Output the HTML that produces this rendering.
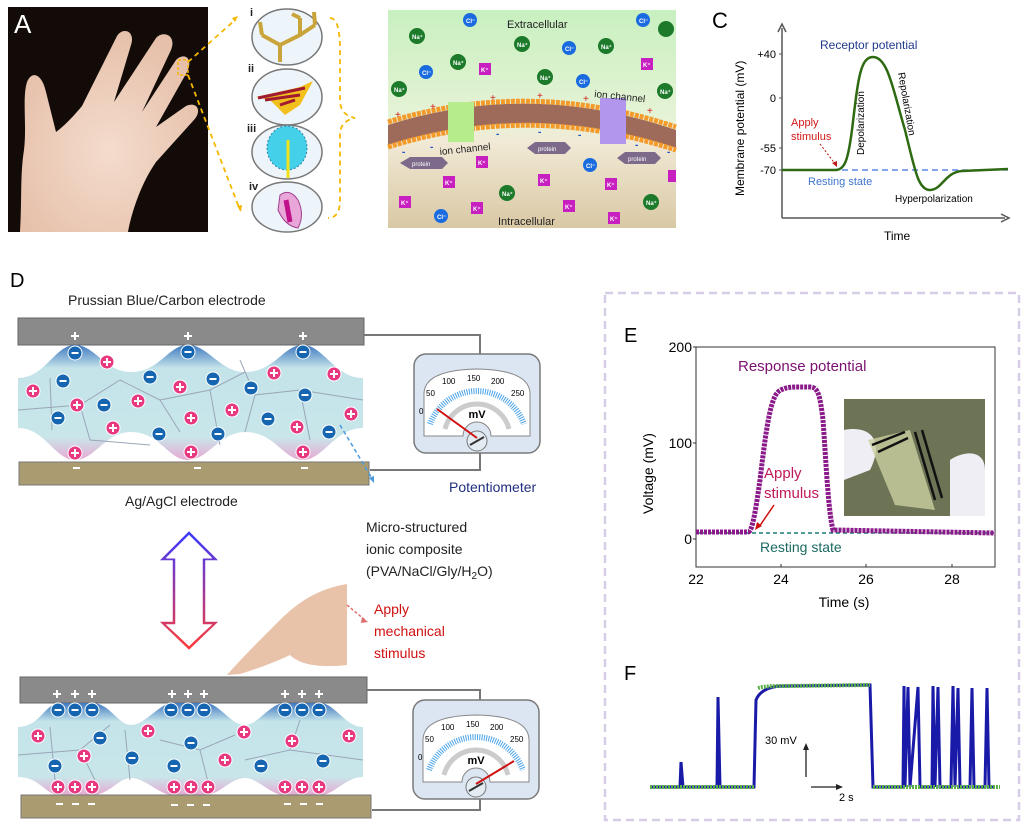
<!DOCTYPE html>
<html><head><meta charset="utf-8"><style>
html,body{margin:0;padding:0;background:#fff}
svg{display:block;font-family:"Liberation Sans",Arial,sans-serif}
</style></head><body>
<svg width="1031" height="832" viewBox="0 0 1031 832" xmlns="http://www.w3.org/2000/svg">
<defs>
<symbol id="pos" viewBox="-7 -7 14 14" overflow="visible"><circle r="7" fill="#e8387f" stroke="#fff" stroke-width="1"/><path d="M-4 0H4M0 -4V4" stroke="#fff" stroke-width="2"/></symbol>
<symbol id="neg" viewBox="-7 -7 14 14" overflow="visible"><circle r="7" fill="#1565b0" stroke="#fff" stroke-width="1"/><path d="M-3.5 0H3.5" stroke="#fff" stroke-width="2"/></symbol>
<linearGradient id="gB" x1="0" y1="0" x2="0" y2="1"><stop offset="0" stop-color="#c8f0c0"/><stop offset="0.5" stop-color="#e6f3d6"/><stop offset="0.6" stop-color="#f1ead6"/><stop offset="1" stop-color="#d9c8a4"/></linearGradient>
<linearGradient id="gel" x1="0" y1="0" x2="0" y2="1"><stop offset="0" stop-color="#3f78c0"/><stop offset="0.2" stop-color="#c4e4ea"/><stop offset="0.8" stop-color="#c8e6ea"/><stop offset="1" stop-color="#e7a9d3"/></linearGradient>
<linearGradient id="arr" x1="0" y1="0" x2="0" y2="1"><stop offset="0" stop-color="#3a3aff"/><stop offset="1" stop-color="#ff3a3a"/></linearGradient>
<radialGradient id="skin" cx="0.5" cy="0.6" r="0.6"><stop offset="0" stop-color="#f4dccd"/><stop offset="1" stop-color="#e6c0aa"/></radialGradient>
<g id="meter">
<rect x="0" y="0" width="126" height="99" rx="12" fill="#dbe6f2" stroke="#7a7a7a" stroke-width="1.5"/>
<path d="M10 40 Q10 16 63 15 Q116 16 116 40 L116 82 L77 82 A14 14 0 0 0 49 82 L10 82 Z" fill="#fff" stroke="#888"/>
<path d="M16 70 A50 50 0 0 1 110 70" fill="none" stroke="#4aa3e8" stroke-width="6" stroke-dasharray="1 1.3"/>
<path d="M31 75 A33 33 0 0 1 95 75" fill="none" stroke="#ccc" stroke-width="5"/>
<text x="63" y="64" font-size="11" font-weight="bold" text-anchor="middle">mV</text>
<text x="5" y="60" font-size="8">0</text><text x="12" y="42" font-size="8">50</text><text x="28" y="30" font-size="8">100</text><text x="53" y="27" font-size="8">150</text><text x="77" y="30" font-size="8">200</text><text x="97" y="42" font-size="8">250</text>
<circle cx="63" cy="87" r="10" fill="#e4ecf3" stroke="#777"/><path d="M56 91L70 83" stroke="#333" stroke-width="2"/>
</g>
</defs>

<!-- Panel A -->
<rect x="8" y="7" width="200" height="225" fill="#120b08"/>
<path d="M20 232 C22 200 20 175 24 150 C27 125 22 98 27 82 C32 70 42 74 46 92 L56 132 C64 126 72 118 82 106 L116 38 C121 26 136 30 131 45 L114 102 L156 38 C163 30 177 35 171 50 L142 112 L176 60 C184 52 194 58 187 72 L156 127 L186 106 C197 101 203 111 193 121 L156 162 C142 182 132 210 128 232 Z" fill="url(#skin)"/>
<text x="14" y="33" font-size="26" fill="#fff">A</text>
<rect x="178" y="60" width="10" height="15" fill="none" stroke="#f5b800" stroke-width="1.5" stroke-dasharray="3 2"/>
<path d="M188 62 L235 20 M188 75 L240 210" stroke="#f5b800" stroke-width="1.8" stroke-dasharray="5 4" fill="none"/>
<path d="M232 18l6-2-3 6z M237 206l4 6 1-7z" fill="#f5b800"/>
<g stroke="#777" stroke-width="1.5" fill="#eef5fa">
<ellipse cx="287" cy="37" rx="35" ry="28"/><ellipse cx="287" cy="97" rx="35" ry="28"/><ellipse cx="287" cy="152" rx="35" ry="27"/><ellipse cx="287" cy="207" rx="35" ry="25"/></g>
<path d="M280 62 L280 45 L262 35 M280 45 L300 35 L300 18 M300 35 L315 25 M262 35 L260 22 M300 18 L292 14 M315 25 L314 12" stroke="#c9a43a" stroke-width="4" fill="none"/>
<path d="M256 97 L300 87 L313 81 L300 105 L285 115 L270 100 Z" fill="#f2c01d"/><path d="M258 98 L305 88 M265 100 L300 95 M280 105 L295 100" stroke="#a01b30" stroke-width="3"/>
<ellipse cx="287" cy="148" rx="20" ry="22" fill="#44d0e8" stroke="#2a7fa6" stroke-dasharray="2 2"/><path d="M288 178 L288 140" stroke="#f2e21a" stroke-width="3"/>
<path d="M280 195 Q290 188 298 200 Q305 215 298 228 Q285 226 278 210 Z" fill="#e9a6d8" stroke="#a04090"/><path d="M286 200 L290 222" stroke="#c0108a" stroke-width="5"/>
<g font-size="11" font-weight="bold" fill="#222"><text x="250" y="16">i</text><text x="248" y="72">ii</text><text x="247" y="132">iii</text><text x="249" y="190">iv</text></g>
<path d="M330 18 Q340 18 340 50 L340 100 Q340 115 355 118 Q340 121 340 135 L340 200 Q340 218 328 218" stroke="#f5b800" stroke-width="1.8" stroke-dasharray="5 4" fill="none"/>

<!-- Panel B -->
<text x="390" y="28" font-size="22">B</text>
<rect x="388" y="10" width="288" height="218" fill="url(#gB)"/>
<path d="M388 125 Q530 80 676 130 L676 148 Q530 100 388 145 Z" fill="#9e6a5a"/>
<path d="M388 122 Q530 78 676 127" stroke="#f39a2a" stroke-width="5" stroke-dasharray="4 1" fill="none"/>
<path d="M388 147 Q530 102 676 150" stroke="#f39a2a" stroke-width="5" stroke-dasharray="4 1" fill="none"/>
<path d="M448 102 h26 v40 h-26z" fill="#b7ec8c" rx="6"/><path d="M600 98 h26 v46 h-26z" fill="#b295ec"/>
<text x="507" y="28" font-size="11" fill="#222">Extracellular</text>
<text x="498" y="225" font-size="11" fill="#222">Intracellular</text>
<text x="440" y="155" font-size="10" fill="#222" transform="rotate(-6 440 155)">ion channel</text>
<text x="594" y="97" font-size="10" fill="#222" transform="rotate(6 594 97)">ion channel</text>
<g fill="#7d6a8a"><path d="M400 163 l10-6 h32 l6 6 -6 6 h-32z"/><path d="M527 148 l8-6 h30 l6 6 -6 6 h-30z"/><path d="M617 158 l8-6 h30 l6 6 -6 6 h-30z"/></g>
<g font-size="6" fill="#fff"><text x="412" y="166">protein</text><text x="538" y="151">protein</text><text x="628" y="161">protein</text></g>
<g fill="#1c7a2a"><circle cx="417" cy="36" r="8"/><circle cx="522" cy="44" r="8"/><circle cx="458" cy="62" r="8"/><circle cx="545" cy="77" r="8"/><circle cx="606" cy="46" r="8"/><circle cx="399" cy="89" r="8"/><circle cx="666" cy="29" r="8"/><circle cx="665" cy="91" r="8"/><circle cx="507" cy="193" r="8"/><circle cx="651" cy="202" r="8"/></g>
<g fill="#1a6be0"><circle cx="470" cy="20" r="7"/><circle cx="569" cy="48" r="7"/><circle cx="426" cy="72" r="7"/><circle cx="583" cy="81" r="7"/><circle cx="643" cy="20" r="7"/><circle cx="590" cy="165" r="7"/><circle cx="441" cy="216" r="7"/></g>
<g fill="#c81fc0"><rect x="479" y="63" width="12" height="12"/><rect x="641" y="58" width="12" height="12"/><rect x="476" y="156" width="12" height="12"/><rect x="443" y="176" width="12" height="12"/><rect x="538" y="174" width="12" height="12"/><rect x="605" y="178" width="12" height="12"/><rect x="399" y="196" width="12" height="12"/><rect x="471" y="202" width="12" height="12"/><rect x="563" y="200" width="12" height="12"/><rect x="608" y="212" width="12" height="12"/><rect x="668" y="170" width="8" height="12"/></g>
<g font-size="6" fill="#fff" font-weight="bold"><text x="412" y="39">Na⁺</text><text x="517" y="47">Na⁺</text><text x="453" y="65">Na⁺</text><text x="540" y="80">Na⁺</text><text x="601" y="49">Na⁺</text><text x="394" y="92">Na⁺</text><text x="660" y="94">Na⁺</text><text x="502" y="196">Na⁺</text><text x="646" y="205">Na⁺</text>
<text x="466" y="23">Cl⁻</text><text x="565" y="51">Cl⁻</text><text x="422" y="75">Cl⁻</text><text x="579" y="84">Cl⁻</text><text x="639" y="23">Cl⁻</text><text x="586" y="168">Cl⁻</text><text x="437" y="219">Cl⁻</text>
<text x="481" y="72">K⁺</text><text x="643" y="67">K⁺</text><text x="478" y="165">K⁺</text><text x="445" y="185">K⁺</text><text x="540" y="183">K⁺</text><text x="607" y="187">K⁺</text><text x="401" y="205">K⁺</text><text x="473" y="211">K⁺</text><text x="565" y="209">K⁺</text><text x="610" y="221">K⁺</text></g>
<g fill="#d02020" font-size="10"><text x="395" y="118">+</text><text x="430" y="110">+</text><text x="490" y="101">+</text><text x="537" y="99">+</text><text x="583" y="102">+</text><text x="647" y="114">+</text></g>
<g fill="#1a50c0" font-size="10" font-weight="bold"><text x="402" y="155">-</text><text x="430" y="150">-</text><text x="496" y="137">-</text><text x="538" y="135">-</text><text x="578" y="138">-</text><text x="635" y="148">-</text><text x="667" y="155">-</text></g>

<!-- Panel C -->
<text x="712" y="28" font-size="22">C</text>
<path d="M782 218 V28 M782 218 H1005" stroke="#555" stroke-width="1.5" fill="none"/>
<path d="M778 32 L782 24 L786 32 M1001 214 L1009 218 L1001 222" stroke="#555" stroke-width="1.5" fill="none"/>
<path d="M779 54h3M779 98h3M779 148h3M779 170h3" stroke="#555"/>
<g font-size="11" text-anchor="end"><text x="776" y="58">+40</text><text x="776" y="102">0</text><text x="776" y="152">-55</text><text x="776" y="174">-70</text></g>
<text x="0" y="0" font-size="12" transform="translate(744 196) rotate(-90)">Membrane potential (mV)</text>
<path d="M782 170 H1008" stroke="#3a6ee0" stroke-dasharray="6 4" stroke-width="1.3"/>
<path d="M782 170 L835 170 C845 170 848 160 852 130 C858 80 860 57 873 57 C888 57 893 90 905 130 C915 170 918 190 930 190 C942 190 945 172 962 171 L1008 169" stroke="#2e6a12" stroke-width="2.5" fill="none"/>
<text x="820" y="49" font-size="12" fill="#1f3a8a">Receptor potential</text>
<text x="791" y="126" font-size="11" fill="#d01818">Apply</text><text x="791" y="140" font-size="11" fill="#d01818">stimulus</text>
<path d="M820 144 L836 165" stroke="#c01818" stroke-dasharray="2 2"/><path d="M832 163l5 4 0-6z" fill="#c01818"/>
<text x="808" y="185" font-size="11" fill="#3f74cc">Resting state</text>
<text x="895" y="202" font-size="10">Hyperpolarization</text>
<text x="0" y="0" font-size="10" transform="translate(864 155) rotate(-90)">Depolarization</text>
<text x="0" y="0" font-size="10" transform="translate(898 73) rotate(80)">Repolarization</text>
<text x="884" y="240" font-size="12">Time</text>

<!-- Panel D -->
<text x="10" y="287" font-size="20">D</text>
<text x="68" y="305" font-size="14" fill="#222">Prussian Blue/Carbon electrode</text>
<rect x="18" y="318" width="346" height="27" fill="#8a8a8a" stroke="#666"/>
<path d="M364 335 H480 V354 M370 470 H480 V453" stroke="#777" stroke-width="2" fill="none"/>
<path d="M18 378 C45 378 55 345 75 345 C95 345 105 372 131 372 C160 372 168 345 188 345 C208 345 220 372 245 372 C275 372 283 345 303 345 C323 345 335 378 363 378 L363 428 C335 428 323 460 303 460 C283 460 275 432 245 432 C220 432 208 460 188 460 C168 460 160 432 131 432 C105 432 95 460 75 460 C55 460 45 428 18 428 Z" fill="url(#gel)"/>
<path d="M50 378 L52 430 M18 410 L80 405 L120 380 M80 405 L90 440 L150 445 M120 380 L160 400 L180 432 M160 400 L210 390 L245 372 M210 390 L220 445 M245 432 L255 395 L300 390 L363 400 M300 390 L310 440 M255 395 L240 360" stroke="#9aa6b8" stroke-width="1" fill="none"/>
<rect x="19" y="462" width="350" height="23" fill="#aa9c70" stroke="#777"/>
<g stroke="#fff" stroke-width="2"><path d="M71 336h8M75 332v8M184 336h8M188 332v8M299 336h8M303 332v8"/><path d="M73 468h7M194 468h7M301 468h7"/></g>
<g>
<use href="#neg" x="68" y="346" width="14" height="14"/><use href="#neg" x="56" y="374" width="14" height="14"/><use href="#neg" x="97" y="398" width="14" height="14"/><use href="#neg" x="51" y="411" width="14" height="14"/><use href="#neg" x="143" y="370" width="14" height="14"/><use href="#neg" x="181" y="345" width="14" height="14"/><use href="#neg" x="206" y="372" width="14" height="14"/><use href="#neg" x="152" y="427" width="14" height="14"/><use href="#neg" x="211" y="427" width="14" height="14"/><use href="#neg" x="244" y="381" width="14" height="14"/><use href="#neg" x="296" y="345" width="14" height="14"/><use href="#neg" x="298" y="388" width="14" height="14"/><use href="#neg" x="261" y="412" width="14" height="14"/><use href="#neg" x="322" y="425" width="14" height="14"/>
<use href="#pos" x="26" y="384" width="14" height="14"/><use href="#pos" x="100" y="355" width="14" height="14"/><use href="#pos" x="70" y="398" width="14" height="14"/><use href="#pos" x="106" y="421" width="14" height="14"/><use href="#pos" x="131" y="394" width="14" height="14"/><use href="#pos" x="173" y="380" width="14" height="14"/><use href="#pos" x="184" y="411" width="14" height="14"/><use href="#pos" x="225" y="403" width="14" height="14"/><use href="#pos" x="267" y="366" width="14" height="14"/><use href="#pos" x="327" y="367" width="14" height="14"/><use href="#pos" x="290" y="420" width="14" height="14"/><use href="#pos" x="344" y="407" width="14" height="14"/><use href="#pos" x="68" y="446" width="14" height="14"/><use href="#pos" x="184" y="445" width="14" height="14"/><use href="#pos" x="296" y="445" width="14" height="14"/>
</g>
<text x="125" y="506" font-size="14" fill="#222">Ag/AgCl electrode</text>
<use href="#meter" x="414" y="354"/>
<path d="M477 438 L437 409" stroke="#d01010" stroke-width="2"/>
<text x="449" y="492" font-size="14" fill="#1f2f80">Potentiometer</text>
<path d="M340 425 L373 480" stroke="#4a9ae0" stroke-width="1.5" stroke-dasharray="4 3"/><path d="M369 478l5 5 0-7z" fill="#4a9ae0"/>
<text x="366" y="532" font-size="14" fill="#222">Micro-structured</text>
<text x="366" y="554" font-size="14" fill="#222">ionic composite</text>
<text x="366" y="576" font-size="14" fill="#222">(PVA/NaCl/Gly/H<tspan font-size="10" dy="3">2</tspan><tspan dy="-3">O)</tspan></text>
<path d="M189 533 L215 559 L204 559 L204 623 L215 623 L189 648 L163 623 L174 623 L174 559 L163 559 Z" fill="none" stroke="url(#arr)" stroke-width="2.5"/>
<path d="M189 537 L211 558 L201 558 L201 625 L211 625 L189 645 L167 625 L177 625 L177 558 L167 558 Z" fill="none" stroke="#fff" stroke-width="1"/>
<path d="M227 675 C240 660 260 640 275 625 C290 610 310 590 347 584 L347 665 C320 668 300 665 290 655 C280 660 260 668 240 674 Z" fill="#e9c2aa"/>
<path d="M347 605 L365 620" stroke="#e07070" stroke-width="1.5" stroke-dasharray="3 2"/><path d="M362 617l6 5-7 1z" fill="#e07070"/>
<g font-size="14" fill="#d01010"><text x="374" y="614">Apply</text><text x="374" y="636">mechanical</text><text x="374" y="658">stimulus</text></g>
<rect x="20" y="677" width="347" height="26" fill="#8a8a8a" stroke="#666"/>
<path d="M367 690 H480 V700 M372 810 H480 V798" stroke="#777" stroke-width="2" fill="none"/>
<path d="M18 727 C40 727 45 703 60 703 L92 703 C110 703 118 725 131 725 C145 725 160 703 172 703 L205 703 C220 703 230 725 245 725 C258 725 270 703 285 703 L320 703 C335 703 345 727 363 727 L363 777 C345 777 335 795 320 795 L285 795 C270 795 258 778 245 778 C230 778 220 795 205 795 L172 795 C160 795 145 778 131 778 C118 778 110 795 92 795 L60 795 C45 795 40 777 18 777 Z" fill="url(#gel)"/>
<path d="M50 727 L55 780 M18 755 L80 750 L110 725 M80 750 L95 780 M125 730 L130 780 M160 740 L200 750 L235 735 M200 750 L210 790 M245 760 L290 750 L363 760 M290 750 L300 720" stroke="#9aa6b8" stroke-width="1" fill="none"/>
<rect x="21" y="795" width="350" height="23" fill="#aa9c70" stroke="#777"/>
<g stroke="#fff" stroke-width="2"><path d="M53 694h8M57 690v8M71 694h8M75 690v8M88 694h8M92 690v8M168 694h8M172 690v8M184 694h8M188 690v8M200 694h8M204 690v8M281 694h8M285 690v8M298 694h8M302 690v8M315 694h8M319 690v8"/><path d="M56 804h7M72 804h7M88 804h7M171 805h7M187 805h7M203 805h7M284 804h7M300 804h7M316 804h7"/></g>
<g>
<use href="#neg" x="51" y="703" width="14" height="14"/><use href="#neg" x="68" y="703" width="14" height="14"/><use href="#neg" x="85" y="703" width="14" height="14"/><use href="#neg" x="164" y="703" width="14" height="14"/><use href="#neg" x="181" y="703" width="14" height="14"/><use href="#neg" x="197" y="703" width="14" height="14"/><use href="#neg" x="278" y="703" width="14" height="14"/><use href="#neg" x="295" y="703" width="14" height="14"/><use href="#neg" x="312" y="703" width="14" height="14"/>
<use href="#neg" x="93" y="731" width="14" height="14"/><use href="#neg" x="48" y="759" width="14" height="14"/><use href="#neg" x="125" y="751" width="14" height="14"/><use href="#neg" x="184" y="736" width="14" height="14"/><use href="#neg" x="167" y="759" width="14" height="14"/><use href="#neg" x="254" y="759" width="14" height="14"/><use href="#neg" x="316" y="754" width="14" height="14"/>
<use href="#pos" x="51" y="780" width="14" height="14"/><use href="#pos" x="68" y="780" width="14" height="14"/><use href="#pos" x="85" y="780" width="14" height="14"/><use href="#pos" x="167" y="780" width="14" height="14"/><use href="#pos" x="184" y="780" width="14" height="14"/><use href="#pos" x="201" y="780" width="14" height="14"/><use href="#pos" x="278" y="780" width="14" height="14"/><use href="#pos" x="295" y="780" width="14" height="14"/><use href="#pos" x="312" y="780" width="14" height="14"/>
<use href="#pos" x="31" y="729" width="14" height="14"/><use href="#pos" x="77" y="749" width="14" height="14"/><use href="#pos" x="141" y="724" width="14" height="14"/><use href="#pos" x="218" y="753" width="14" height="14"/><use href="#pos" x="237" y="725" width="14" height="14"/><use href="#pos" x="285" y="734" width="14" height="14"/><use href="#pos" x="342" y="729" width="14" height="14"/>
</g>
<use href="#meter" x="413" y="700"/>
<path d="M476 784 L514 761" stroke="#d01010" stroke-width="2"/>

<!-- Dashed box -->
<rect x="605" y="293" width="414" height="527" fill="none" stroke="#d8cde6" stroke-width="2.5" stroke-dasharray="8 5"/>

<!-- Panel E -->
<text x="624" y="342" font-size="20">E</text>
<rect x="696" y="347" width="299" height="220" fill="none" stroke="#333"/>
<path d="M693 347h3M693 443h3M693 539h3M696 567v-3M781 567v-3M866 567v-3M952 567v-3" stroke="#333"/>
<g font-size="14" text-anchor="end"><text x="692" y="352">200</text><text x="692" y="448">100</text><text x="692" y="544">0</text></g>
<g font-size="14" text-anchor="middle"><text x="696" y="584">22</text><text x="781" y="584">24</text><text x="866" y="584">26</text><text x="952" y="584">28</text><text x="844" y="607">Time (s)</text></g>
<text x="0" y="0" font-size="14" transform="translate(653 514) rotate(-90)">Voltage (mV)</text>
<path d="M696 533 H995" stroke="#1a7a72" stroke-width="1.5" stroke-dasharray="4 3"/>
<path d="M696 532 L748 532 C752 532 755 515 760 480 C766 430 770 400 778 392 C785 386 795 387 810 387 C818 387 820 395 823 420 C826 460 828 510 833 530 L995 533" stroke="#8a1a8a" stroke-width="5" fill="none" stroke-dasharray="3 1"/>
<text x="738" y="371" font-size="15" fill="#7a1070">Response potential</text>
<text x="764" y="478" font-size="15" fill="#c0185a">Apply</text><text x="764" y="498" font-size="15" fill="#c0185a">stimulus</text>
<path d="M774 505 L759 527" stroke="#d01010" stroke-width="1.5"/><path d="M755 530 l2-8 5 4z" fill="#d01010"/>
<text x="760" y="552" font-size="14" fill="#1a6a62">Resting state</text>
<rect x="844" y="399" width="141" height="117" fill="#6d7355"/>
<path d="M844 430 C870 425 885 440 870 470 L844 480 Z M950 460 C965 450 985 450 985 470 L985 516 L950 516 Z" fill="#efeef4"/>
<path d="M868 440 L910 430 L935 510 L895 505 Z" fill="#c9d0a0" opacity="0.8"/>
<path d="M872 445 L905 432 M878 452 L908 438 M915 432 L935 500 M922 430 L942 498" stroke="#111" stroke-width="2.5"/>

<!-- Panel F -->
<text x="624" y="680" font-size="20">F</text>
<path d="M650 787 L680 787 L681 762 L683 787 L717 787 L718 697 L720 787 L754 787 L756 700 C760 690 770 686 785 686 L870 685 L873 787 L903 787 L904 686 L905 787 L908 687 L910 787 L918 687 L920 787 L932 787 L933 686 L935 787 L938 687 L940 787 L951 787 L953 686 L955 787 L958 688 L960 787 L970 787 L972 688 L974 787 L985 787 L987 688 L989 787 L995 787" stroke="#1a1aa8" stroke-width="3" fill="none"/>
<path d="M650 787 H754 M758 688 C765 686 775 686 785 686 L870 685 M873 787 H1000" stroke="#5bb04a" stroke-width="4" stroke-dasharray="2 1" fill="none"/>
<text x="765" y="744" font-size="11">30 mV</text>
<path d="M806 777 V748" stroke="#222" stroke-width="1.3"/><path d="M803 750l3-7 3 7z" fill="#222"/>
<path d="M811 787 H838" stroke="#222" stroke-width="1.3"/><path d="M836 784l7 3-7 3z" fill="#222"/>
<text x="839" y="801" font-size="11">2 s</text>
</svg>
</body></html>
